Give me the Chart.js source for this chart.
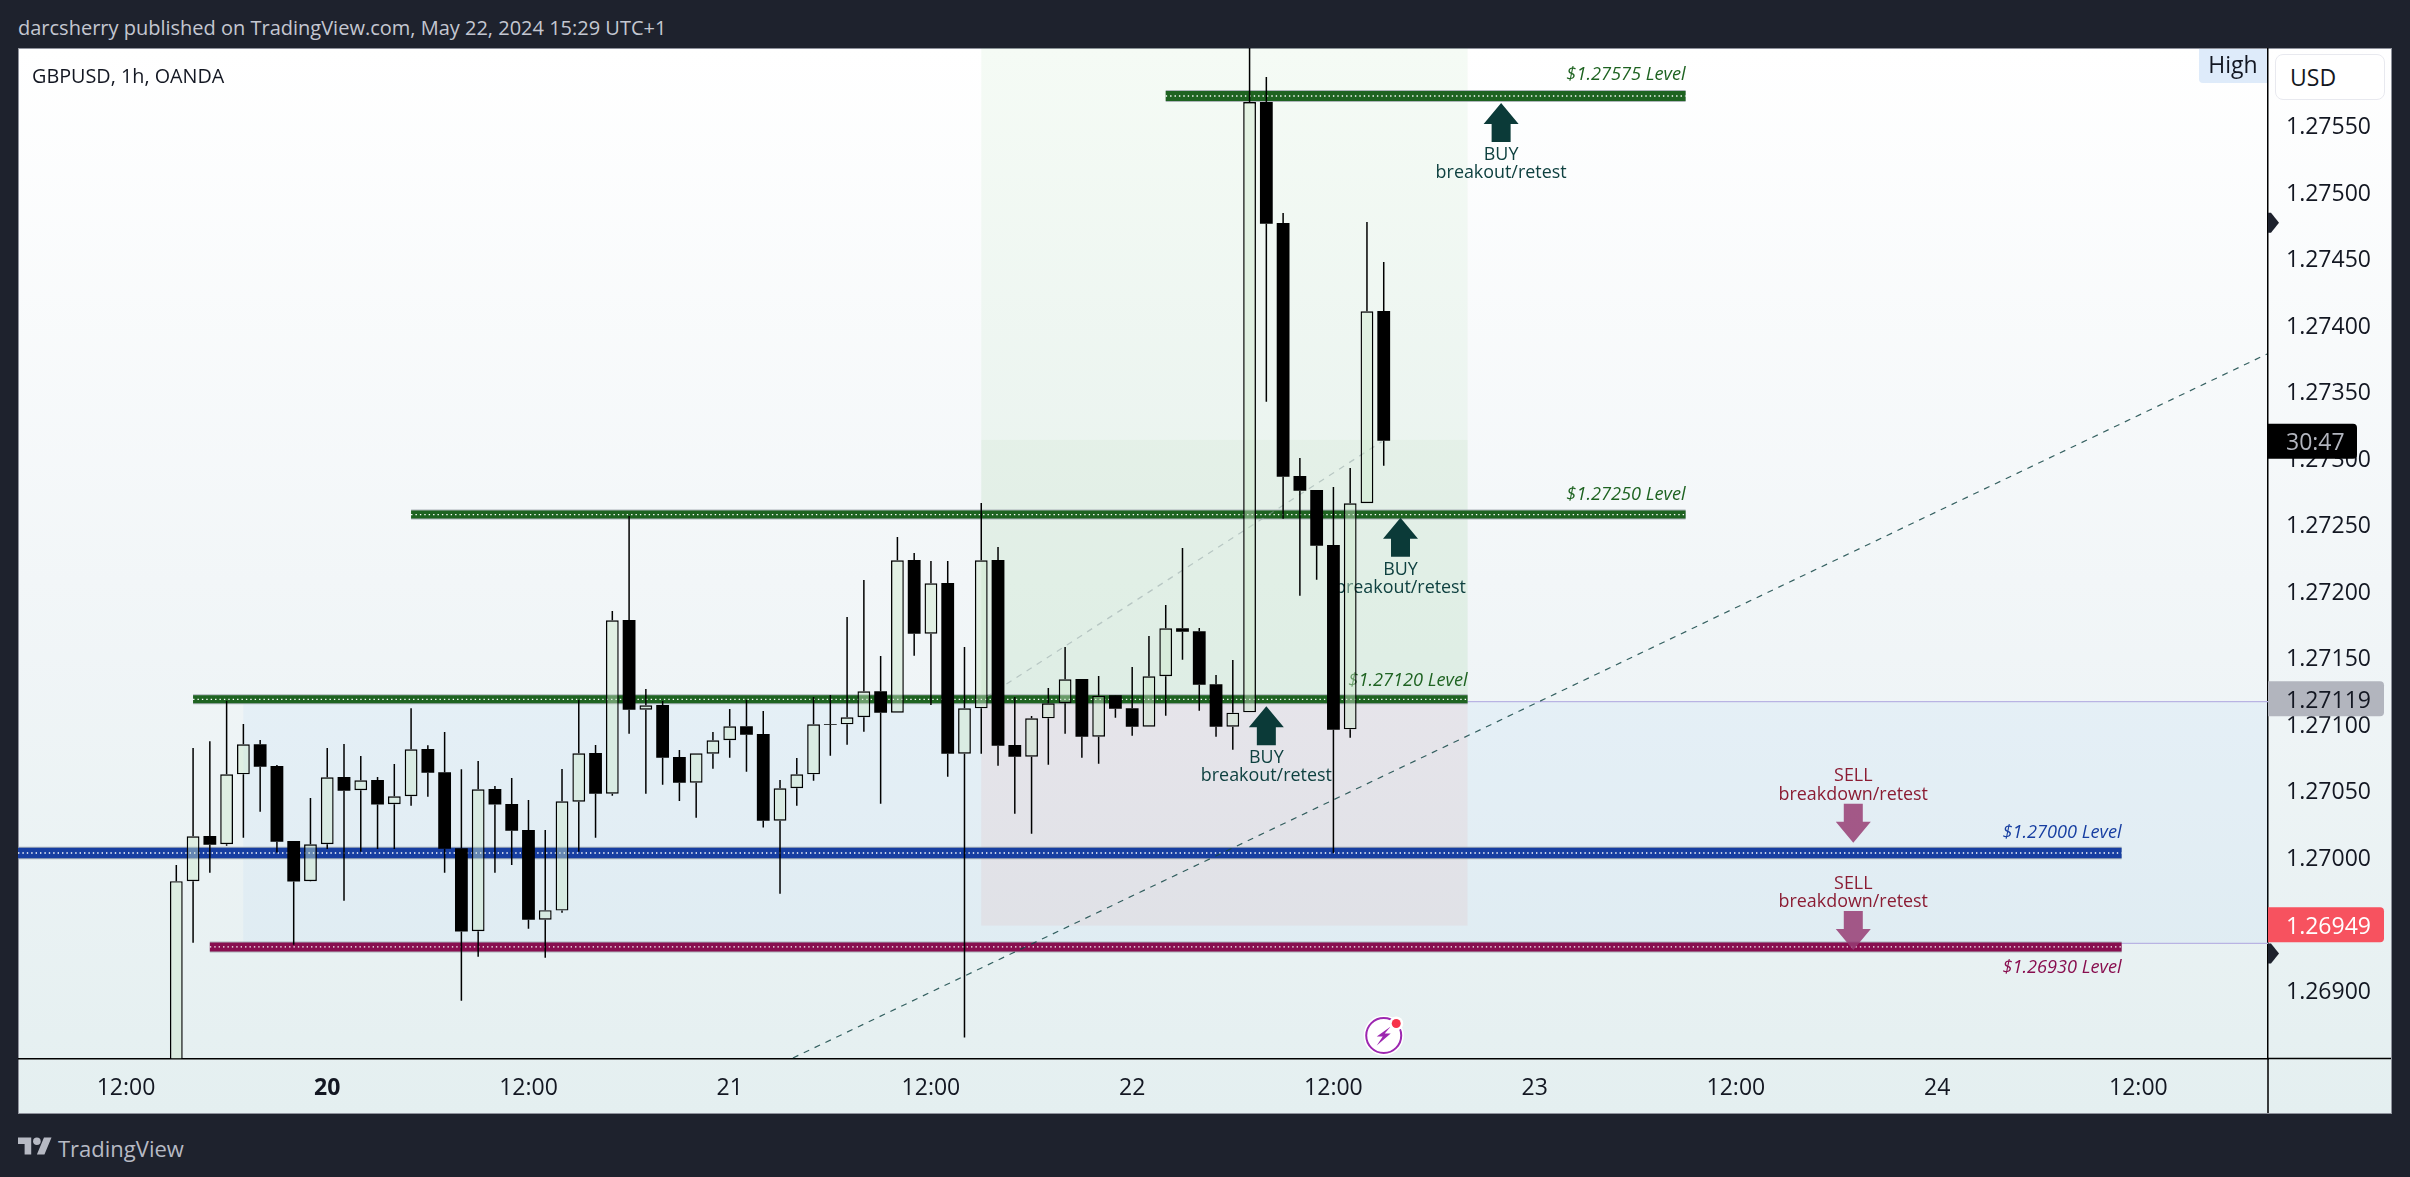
<!DOCTYPE html>
<html>
<head>
  <meta charset="utf-8">
  <title>GBPUSD, 1h, OANDA</title>
  <script src="https://cdn.jsdelivr.net/npm/chart.js"></script>
  <style>
    html, body {
      margin: 0;
      width: 2410px;
      height: 1177px;
      overflow: hidden;
      background: #1e222d;
      font-family: 'Open Sans', sans-serif;
    }
    .abs { position: absolute; white-space: nowrap; }
    #panel {
      left: 18px; top: 48px; width: 2374px; height: 1066px;
      box-sizing: border-box;
      border: 1px solid #8f929c;
      background: linear-gradient(#ffffff, #f2f6f8 50%, #e4eff0);
    }
    #chart { position: absolute; left: 18px; top: 48px; }
    #header { left: 18px; top: 14px; font-size: 20px; line-height: 28px; color: #c4c7d1; }
    #title { left: 32px; top: 62px; font-size: 19.8px; line-height: 28px; color: #131722; }
    #high {
      left: 2199px; top: 49px; width: 68px; height: 34px;
      background: #deebfa; border-bottom-left-radius: 4px;
      font-size: 23px; line-height: 30px; text-align: center; color: #131722;
    }
    #usd {
      left: 2275px; top: 54px; width: 110px; height: 46px;
      box-sizing: border-box;
      background: #ffffff; border: 1px solid #e8e9ef; border-radius: 8px;
      font-size: 23px; line-height: 44px; padding-left: 14px; color: #131722;
    }
    #logo { left: 18px; top: 1137px; }
    #brand { left: 58px; top: 1131px; font-size: 22px; line-height: 34px; color: #b7bac4; }
  </style>
</head>
<body>
  <div id="panel" class="abs"></div>
  <canvas id="chart" width="2374" height="1066"></canvas>
  <div id="header" class="abs">darcsherry published on TradingView.com, May 22, 2024 15:29 UTC+1</div>
  <div id="title" class="abs">GBPUSD, 1h, OANDA</div>
  <div id="high" class="abs">High</div>
  <div id="usd" class="abs">USD</div>
  <svg id="logo" class="abs" width="34" height="18" viewBox="0 4 36 18" fill="#b7bac4">
    <path d="M14 22H7V11H0V4h14v18zM28 22h-8l7.5-18h8L28 22z"></path>
    <circle cx="20" cy="8" r="4"></circle>
  </svg>
  <div id="brand" class="abs">TradingView</div>

  <script>
    // hours counted from the first 12:00 on the time axis
    const hours = [3,4,5,6,7,8,9,10,11,12,13,14,15,16,17,18,19,20,21,22,23,24,25,26,27,28,29,30,31,32,33,34,35,36,37,38,39,40,41,42,43,44,45,46,47,48,49,50,51,52,53,54,55,56,57,58,59,60,61,62,63,64,65,66,67,68,69,70,71,72,73,74,75];
    const opens = [1.268300,1.269814,1.270154,1.270092,1.270618,1.270844,1.270680,1.270117,1.269814,1.270092,1.270598,1.270498,1.270575,1.270393,1.270453,1.270808,1.270633,1.270062,1.269438,1.270508,1.270395,1.270199,1.269525,1.269593,1.270412,1.270778,1.270472,1.271778,1.271104,1.271139,1.270748,1.270555,1.270773,1.270874,1.270979,1.270921,1.270269,1.270513,1.270618,1.270996,1.270994,1.271047,1.271242,1.271081,1.272229,1.271675,1.272056,1.270773,1.271114,1.272229,1.270838,1.270750,1.271039,1.271152,1.271335,1.270901,1.271212,1.271114,1.270976,1.271355,1.271716,1.271693,1.271295,1.270976,1.271084,1.275673,1.274763,1.272861,1.272756,1.272342,1.270956,1.272656,1.274102];
    const highs = [1.269936,1.270816,1.270866,1.271171,1.270996,1.270876,1.270688,1.270117,1.270440,1.270816,1.270846,1.270756,1.270598,1.270696,1.271114,1.270836,1.270936,1.270656,1.270718,1.270530,1.270590,1.270425,1.270199,1.270658,1.271177,1.270838,1.271846,1.272560,1.271259,1.271169,1.270801,1.270776,1.270936,1.271109,1.271177,1.271094,1.270575,1.270741,1.271199,1.271214,1.271801,1.272079,1.271508,1.272402,1.272282,1.272222,1.272222,1.271575,1.272658,1.272327,1.271199,1.271056,1.271267,1.271575,1.271335,1.271357,1.271214,1.271425,1.271658,1.271891,1.272320,1.271718,1.271365,1.271477,1.276139,1.275861,1.274838,1.272996,1.272756,1.272778,1.272921,1.274771,1.274470];
    const lows = [1.268200,1.269352,1.269878,1.270081,1.270141,1.270337,1.270029,1.269337,1.269811,1.270056,1.269668,1.270036,1.270056,1.270056,1.270382,1.270450,1.269878,1.268916,1.269247,1.269878,1.269936,1.269456,1.269238,1.269577,1.270036,1.270141,1.270457,1.270923,1.270472,1.270540,1.270417,1.270292,1.270660,1.270743,1.270638,1.270217,1.269720,1.270382,1.270570,1.270758,1.270841,1.270938,1.270397,1.271081,1.271510,1.271139,1.270600,1.268638,1.270773,1.270683,1.270322,1.270171,1.270690,1.270923,1.270743,1.270698,1.271044,1.270908,1.270976,1.271059,1.271480,1.271096,1.270901,1.270803,1.271084,1.273420,1.272540,1.271961,1.272081,1.270024,1.270893,1.272656,1.272938];
    const closes = [1.269814,1.270152,1.270089,1.270618,1.270844,1.270675,1.270111,1.269811,1.270092,1.270595,1.270495,1.270573,1.270390,1.270453,1.270806,1.270630,1.270059,1.269435,1.270505,1.270390,1.270194,1.269525,1.269596,1.270415,1.270776,1.270472,1.271776,1.271104,1.271137,1.270743,1.270555,1.270776,1.270874,1.270979,1.270916,1.270269,1.270513,1.270618,1.270994,1.270990,1.271047,1.271242,1.271081,1.272227,1.271675,1.272054,1.270773,1.271114,1.272227,1.270833,1.270750,1.271039,1.271152,1.271332,1.270901,1.271209,1.271111,1.270976,1.271355,1.271716,1.271690,1.271292,1.270976,1.271081,1.275673,1.274758,1.272856,1.272750,1.272337,1.270953,1.272656,1.274099,1.273126];

    const timeTicks = [0,12,24,36,48,60,72,84,96,108,120];
    const timeLabels = ['12:00','20','12:00','21','12:00','22','12:00','23','12:00','24','12:00'];
    const priceTicks = [1.269,1.2695,1.27,1.2705,1.271,1.2715,1.272,1.2725,1.273,1.2735,1.274,1.2745,1.275,1.2755];

    // horizontal levels
    const levelPrices = [1.275718,1.272571,1.271182,1.270026,1.269320];
    const levelStarts = [62,17,4,-6.44,5];
    const levelEnds = [93,93,80,119,119];
    const levelColors = ['#1e6321','#1e6321','#1e6321','#173ea1','#880e4f'];
    const levelWidths = [10,8,8,10.5,9];
    const levelNames = ['$1.27575 Level','$1.27250 Level','$1.27120 Level','$1.27000 Level','$1.26930 Level'];
    const levelNameOffsets = [-21,-19.5,-18,-20.6,21.4];

    // trend lines
    const trendHours = [39.77,127.67];
    const trendPrices = [1.268485,1.273778];
    const paleTrendHours = [51.3,74.88];
    const paleTrendPrices = [1.271199,1.273119];

    // shaded boxes
    const boxStarts = [7,51,51,51];
    const boxEnds = [127.73,80,80,80];
    const boxTops = [1.271165,1.2762,1.273132,1.271184];
    const boxBottoms = [1.269347,1.273132,1.271184,1.269480];
    const boxColors = ['rgba(60,150,255,0.05)','rgba(76,175,80,0.055)','rgba(76,175,80,0.10)','rgba(229,90,84,0.08)'];

    // arrows with their notes
    const arrowHours = [82,76,68,103,103];
    const arrowTips = [1.275665,1.272547,1.271129,1.270104,1.269297];
    const arrowSides = ['BUY','BUY','BUY','SELL','SELL'];

    // price tags on the axis
    const tagPrices = [1.27119,1.26949,1.273126];
    const tagTexts = ['1.27119','1.26949','30:47'];
    const markerPrices = [1.274765,1.269271];

    const font = "'Open Sans', sans-serif";
    const X_MIN = -6.44, X_MAX = 127.73, Y_MIN = 1.268481, Y_MAX = 1.276079;

    let nextOrder = 100;
    function lineSet(label, xs, ys, color, width, dash) {
      return {
        type: 'line', label,
        data: xs.map((x, i) => ({ x, y: ys[i] })),
        borderColor: color, borderWidth: width, borderDash: dash || [],
        pointRadius: 0, fill: false, tension: 0, order: nextOrder--
      };
    }

    const datasets = [];
    datasets.push(lineSet('Range high', [7, X_MAX], [1.271165, 1.271165], '#b9b3e3', 1.3));
    datasets.push(lineSet('Range low', [7, X_MAX], [1.269347, 1.269347], '#b9b3e3', 1.3));
    levelPrices.forEach((p, i) => {
      const xs = [levelStarts[i], levelEnds[i]], ys = [p, p];
      datasets.push(lineSet(levelNames[i] + ' edge', xs, ys, 'rgba(150,158,165,0.75)', levelWidths[i] + 2));
      datasets.push(lineSet(levelNames[i], xs, ys, levelColors[i], levelWidths[i]));
      datasets.push(lineSet(levelNames[i] + ' dots', xs, ys, '#ffffff', 1.3, [1.4, 3]));
    });
    datasets.push(lineSet('Pale trend', paleTrendHours, paleTrendPrices, 'rgba(150,165,165,0.55)', 1.3, [6, 6]));
    datasets.push(lineSet('Trend', trendHours, trendPrices, 'rgba(20,70,70,0.85)', 1.2, [6, 6]));

    function barSet(label, data, bg, thickness, border) {
      return {
        type: 'bar', label, data,
        backgroundColor: bg, borderColor: '#000000', borderWidth: border || 0,
        borderSkipped: false, barThickness: thickness, grouped: false,
        inflateAmount: 0, order: nextOrder--
      };
    }
    const isUp = hours.map((h, i) => closes[i] >= opens[i]);
    const upperWicks = hours.map((x, i) => ({ x, y: [Math.max(opens[i], closes[i]), highs[i]] }));
    const lowerWicks = hours.map((x, i) => ({ x, y: [lows[i], Math.min(opens[i], closes[i])] }));
    const upBodies = hours.map((x, i) => ({ x, y: [opens[i], closes[i]] })).filter((d, i) => isUp[i]);
    const downBodies = hours.map((x, i) => ({ x, y: [closes[i], opens[i]] })).filter((d, i) => !isUp[i]);
    datasets.push(barSet('Upper wick', upperWicks, '#000000', 1.5));
    datasets.push(barSet('Lower wick', lowerWicks, '#000000', 1.5));
    datasets.push(barSet('Up', upBodies, 'rgba(204,231,202,0.43)', 12.8, 1.4));
    datasets.push(barSet('Down', downBodies, '#000000', 12.8));

    function drawArrow(ctx, x, y, dir, color) {
      // dir 1 points up, -1 points down, y is the tip
      ctx.fillStyle = color;
      ctx.beginPath();
      ctx.moveTo(x, y);
      ctx.lineTo(x + 17.5, y + dir * 21);
      ctx.lineTo(x + 9.5, y + dir * 21);
      ctx.lineTo(x + 9.5, y + dir * 39);
      ctx.lineTo(x - 9.5, y + dir * 39);
      ctx.lineTo(x - 9.5, y + dir * 21);
      ctx.lineTo(x - 17.5, y + dir * 21);
      ctx.closePath();
      ctx.fill();
    }

    const boxesPlugin = {
      id: 'boxes',
      beforeDatasetsDraw(chart) {
        const { ctx, chartArea: a, scales: { x, y } } = chart;
        ctx.save();
        ctx.beginPath();
        ctx.rect(a.left, a.top, a.width, a.height);
        ctx.clip();
        boxStarts.forEach((s, i) => {
          ctx.fillStyle = boxColors[i];
          const x0 = x.getPixelForValue(s), x1 = x.getPixelForValue(boxEnds[i]);
          const y0 = y.getPixelForValue(boxTops[i]), y1 = y.getPixelForValue(boxBottoms[i]);
          ctx.fillRect(x0, y0, x1 - x0, y1 - y0);
        });
        ctx.restore();
      }
    };

    const notesPlugin = {
      id: 'notes',
      beforeDatasetDraw(chart, args) {
        if (chart.data.datasets[args.index].label !== 'Upper wick') return;
        const { ctx, scales: { x, y } } = chart;
        ctx.save();
        ctx.textAlign = 'center';
        ctx.textBaseline = 'middle';
        arrowHours.forEach((h, i) => {
          const px = x.getPixelForValue(h), py = y.getPixelForValue(arrowTips[i]);
          if (arrowSides[i] === 'BUY') {
            drawArrow(ctx, px, py, 1, '#0b3a38');
            ctx.fillStyle = '#0f4140';
            ctx.font = '17.9px ' + font;
            ctx.fillText('BUY', px, py + 52);
            ctx.fillText('breakout/retest', px, py + 70);
          } else {
            drawArrow(ctx, px, py, -1, 'rgba(150,60,115,0.85)');
            ctx.fillStyle = '#8b1c33';
            ctx.font = '17.9px ' + font;
            ctx.fillText('SELL', px, py - 66.5);
            ctx.fillText('breakdown/retest', px, py - 48);
          }
        });
        ctx.textAlign = 'right';
        ctx.font = 'italic 18.2px ' + font;
        levelNames.forEach((name, i) => {
          ctx.fillStyle = levelColors[i];
          ctx.fillText(name, x.getPixelForValue(levelEnds[i]), y.getPixelForValue(levelPrices[i]) + levelNameOffsets[i]);
        });
        ctx.restore();
      }
    };

    function drawTag(ctx, left, top, w, h, bg) {
      ctx.fillStyle = bg;
      ctx.beginPath();
      ctx.roundRect(left, top, w, h, [0, 4, 4, 0]);
      ctx.fill();
    }

    const axisPlugin = {
      id: 'axisExtras',
      afterDraw(chart) {
        const { ctx, chartArea: a, scales: { x, y }, width, height } = chart;
        ctx.save();
        // axis lines run on to the edge of the panel
        ctx.strokeStyle = '#000000';
        ctx.lineWidth = 1.5;
        ctx.beginPath();
        ctx.moveTo(a.right, a.bottom);
        ctx.lineTo(width - 1, a.bottom);
        ctx.moveTo(a.right, a.bottom);
        ctx.lineTo(a.right, height - 1);
        ctx.stroke();

        const bg = ['#b2b5be', '#f7525f', '#000000'];
        const fg = ['#131722', '#ffffff', '#b2b5be'];
        const tagW = [116, 116, 89];
        ctx.font = '23px ' + font;
        ctx.textBaseline = 'middle';
        ctx.textAlign = 'left';
        tagPrices.forEach((p, i) => {
          const cy = y.getPixelForValue(p);
          drawTag(ctx, a.right, cy - 17, tagW[i], 35, bg[i]);
          ctx.fillStyle = fg[i];
          ctx.fillText(tagTexts[i], a.right + 18, cy + 3);
        });

        // small markers on the price axis
        ctx.fillStyle = '#1e222d';
        markerPrices.forEach(p => {
          const cy = y.getPixelForValue(p);
          ctx.beginPath();
          ctx.moveTo(a.right, cy - 10);
          ctx.lineTo(a.right + 3, cy - 10);
          ctx.lineTo(a.right + 11, cy);
          ctx.lineTo(a.right + 3, cy + 10);
          ctx.lineTo(a.right, cy + 10);
          ctx.closePath();
          ctx.fill();
        });

        // publish badge at the bottom of the pane
        const bx = x.getPixelForValue(75), by = a.bottom - 23;
        ctx.fillStyle = '#ffffff';
        ctx.beginPath();
        ctx.arc(bx, by, 20, 0, Math.PI * 2);
        ctx.fill();
        ctx.strokeStyle = '#9c27b0';
        ctx.lineWidth = 2;
        ctx.beginPath();
        ctx.arc(bx, by, 17.5, 0, Math.PI * 2);
        ctx.stroke();
        ctx.fillStyle = '#9c27b0';
        ctx.beginPath();
        ctx.moveTo(bx + 7, by - 9);
        ctx.lineTo(bx - 7, by + 1);
        ctx.lineTo(bx - 1, by + 1);
        ctx.lineTo(bx - 7, by + 10);
        ctx.lineTo(bx + 7, by - 2);
        ctx.lineTo(bx + 1, by - 2);
        ctx.closePath();
        ctx.fill();
        ctx.fillStyle = '#ffffff';
        ctx.beginPath();
        ctx.arc(bx + 12.5, by - 12, 7, 0, Math.PI * 2);
        ctx.fill();
        ctx.fillStyle = '#f7334a';
        ctx.beginPath();
        ctx.arc(bx + 12.5, by - 12, 4.5, 0, Math.PI * 2);
        ctx.fill();
        ctx.restore();
      }
    };

    new Chart(document.getElementById('chart').getContext('2d'), {
      type: 'bar',
      data: { datasets },
      plugins: [boxesPlugin, notesPlugin, axisPlugin],
      options: {
        responsive: false,
        animation: false,
        devicePixelRatio: 1,
        layout: { padding: 0 },
        plugins: { legend: { display: false }, tooltip: { enabled: false } },
        scales: {
          x: {
            type: 'linear', min: X_MIN, max: X_MAX, offset: false,
            grid: { display: false, drawTicks: false },
            border: { display: true, color: '#000000', width: 1.5 },
            afterBuildTicks(s) { s.ticks = timeTicks.map(value => ({ value })); },
            afterFit(s) { s.height = 55.5; s.paddingLeft = 0; s.paddingRight = 0; },
            ticks: {
              autoSkip: false, maxRotation: 0, padding: 16.5, color: '#131722',
              font: c => ({ family: font, size: 23, weight: c.tick && c.tick.value === 12 ? 'bold' : 'normal' }),
              callback: value => timeLabels[timeTicks.indexOf(value)]
            }
          },
          y: {
            type: 'linear', position: 'right', min: Y_MIN, max: Y_MAX, beginAtZero: false,
            grid: { display: false, drawTicks: false },
            border: { display: true, color: '#000000', width: 1.5 },
            afterBuildTicks(s) { s.ticks = priceTicks.map(value => ({ value })); },
            afterFit(s) { s.width = 124; s.paddingTop = 0; s.paddingBottom = 0; },
            ticks: {
              autoSkip: false, padding: 18, labelOffset: 2.5, color: '#131722',
              font: { family: font, size: 23 },
              callback: value => value.toFixed(5)
            }
          }
        }
      }
    });
  </script>
</body>
</html>
